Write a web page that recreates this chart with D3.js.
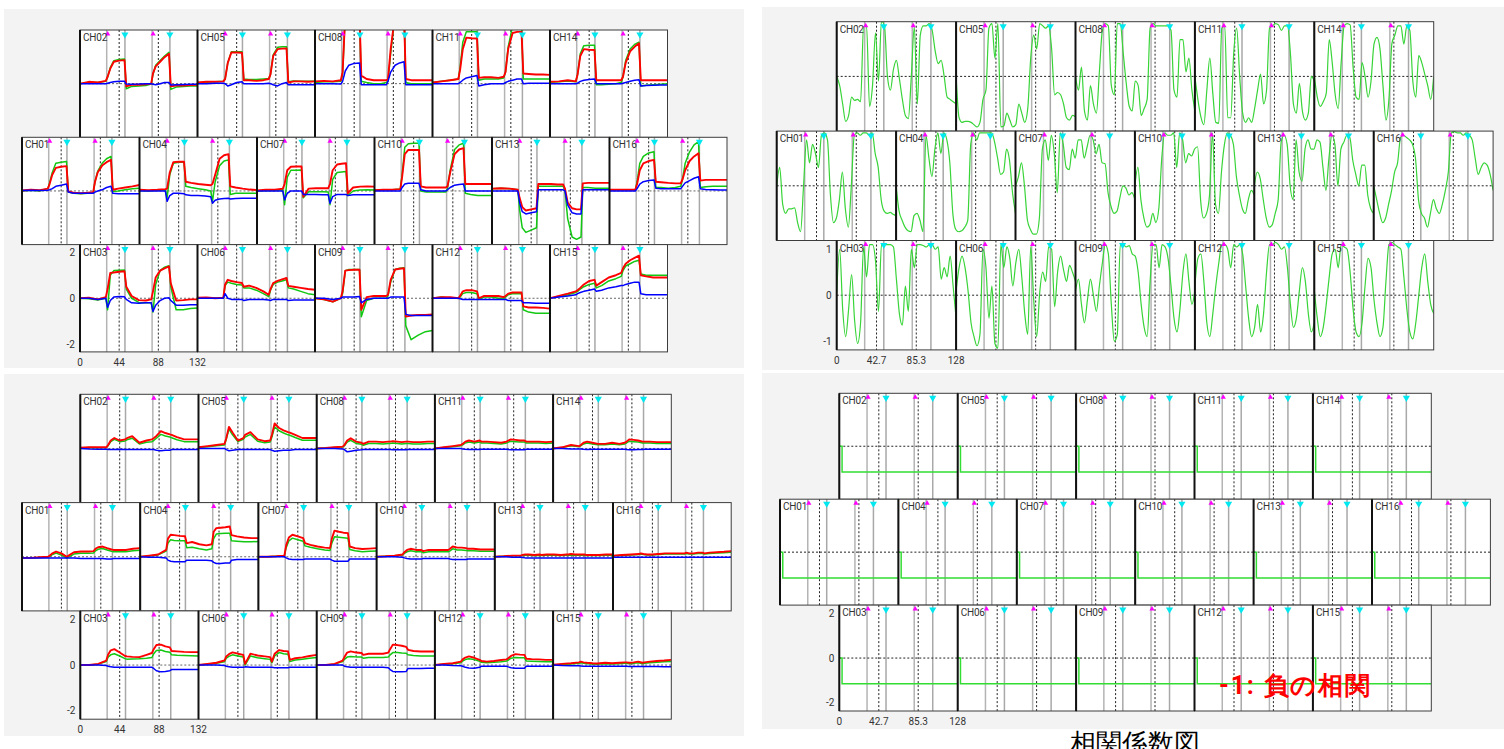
<!DOCTYPE html>
<html>
<head>
<meta charset="utf-8">
<script src="https://cdn.jsdelivr.net/npm/d3@7/dist/d3.min.js"></script>
<style>
  body { margin: 0; background: #fff; overflow: hidden; }
  svg text { font-family: Roboto, "Noto Sans", sans-serif; }
</style>
</head>
<body>
<svg id="chart" width="1504" height="749"></svg>
<script>
// channel layout (3 staggered rows)
const rowChannels = [[2, 5, 8, 11, 14], [1, 4, 7, 10, 13, 16], [3, 6, 9, 12, 15]];

// task events: start, end, start, end (seconds)
const eventTimes = [30, 50.5, 81, 101];

// sample times for the Hb waveforms (s) and the correlation traces (s)
const tHb = [0, 10, 20, 29, 31, 34, 38, 44, 50, 52, 58, 66, 74, 80, 82, 85, 90, 95, 100, 102, 108, 116, 124, 132];
const tCorr = [0, 3.2, 6.4, 9.6, 12.8, 16, 19.2, 22.4, 25.6, 28.8, 32, 35.2, 38.4, 41.6, 44.8, 48, 51.2, 54.4, 57.6, 60.8, 64,
  67.2, 70.4, 73.6, 76.8, 80, 83.2, 86.4, 89.6, 92.8, 96, 99.2, 102.4, 105.6, 108.8, 112, 115.2, 118.4, 121.6, 124.8, 128];

// ---- top-left: oxy (red), total (green), deoxy (blue), index = channel-1
const tlOxy = [
  [0.02,0.05,0.03,0.1,0.3,0.7,1.0,1.05,1.08,-0.02,-0.08,-0.1,-0.08,-0.05,0.4,0.8,1.1,1.25,1.35,0.05,0.1,0.15,0.2,0.26],
  [0.0,0.08,0.05,0.12,0.3,0.65,0.95,1.0,1.02,-0.12,-0.05,-0.05,-0.03,0.0,0.45,0.75,0.95,1.15,1.3,-0.12,-0.08,-0.08,-0.06,-0.05],
  [0.0,0.02,-0.05,0.05,0.4,1.1,1.12,1.15,1.17,0.5,0.1,-0.08,-0.1,-0.05,0.3,0.9,1.2,1.3,1.38,0.65,-0.1,-0.08,-0.05,-0.05],
  [0.05,0.03,0.05,0.08,0.1,0.8,1.25,1.27,1.27,0.4,0.35,0.3,0.27,0.25,0.3,0.7,1.4,1.55,1.6,0.2,0.15,0.1,0.06,0.04],
  [0.05,0.08,0.08,0.1,0.2,0.9,1.35,1.35,1.34,0.15,0.15,0.12,0.15,0.2,0.4,1.2,1.5,1.52,1.53,0.05,0.1,0.1,0.08,0.1],
  [0.02,0.03,0.0,0.02,0.6,0.8,0.75,0.7,0.66,0.5,0.55,0.45,0.3,0.15,0.4,0.66,0.75,0.82,0.88,0.54,0.5,0.45,0.4,0.37],
  [0.02,0.05,0.05,0.1,0.3,0.9,1.05,1.06,1.06,-0.25,0.1,0.12,0.12,0.12,0.3,0.9,1.15,1.18,1.2,-0.1,0.15,0.19,0.2,0.19],
  [0.1,0.12,0.1,0.15,0.5,3,3,3,3,0.35,0.2,0.15,0.15,0.15,0.2,1.5,3,3,3,0.2,0.15,0.15,0.15,0.15],
  [0.0,-0.05,-0.15,0.0,0.3,1.2,1.22,1.24,1.24,-0.5,0.05,0.1,0.1,0.1,0.15,0.8,1.25,1.28,1.3,-0.8,-0.75,-0.72,-0.72,-0.7],
  [0.03,0.05,0.05,0.08,0.6,1.6,1.78,1.78,1.78,0.2,0.15,0.15,0.15,0.15,0.2,0.8,1.6,1.8,1.86,0.3,0.3,0.3,0.3,0.3],
  [0.05,0.1,0.15,0.2,0.6,1.5,2.0,1.97,1.96,0.25,0.28,0.28,0.25,0.3,0.5,1.5,2.2,2.25,2.25,0.44,0.42,0.4,0.4,0.38],
  [0.0,0.05,0.05,0.0,0.1,0.3,0.35,0.35,0.3,0.0,0.1,0.1,0.1,0.05,0.1,0.2,0.25,0.25,0.25,-0.35,-0.4,-0.4,-0.42,-0.45],
  [0.1,0.12,0.1,0.05,-0.3,-0.7,-0.85,-0.8,-0.75,0.3,0.3,0.3,0.28,0.28,0.1,-0.5,-0.75,-0.8,-0.8,0.33,0.35,0.35,0.35,0.35],
  [0.08,0.1,0.15,0.1,0.4,1.2,1.5,1.47,1.46,0.15,0.15,0.15,0.15,0.15,0.3,0.9,1.4,1.6,1.75,0.15,0.15,0.15,0.15,0.15],
  [0.0,0.1,0.2,0.3,0.35,0.45,0.6,0.75,0.8,0.55,0.7,0.9,1.0,1.1,1.3,1.5,1.65,1.75,1.85,1.0,0.95,0.9,0.9,0.9],
  [0.05,0.05,0.05,0.05,0.3,0.9,1.2,1.3,1.35,0.4,0.38,0.35,0.33,0.33,0.5,0.9,1.3,1.5,1.64,0.45,0.48,0.48,0.48,0.48]
];
const tlTotal = [
  [0.0,0.03,0.0,0.1,0.35,0.8,1.2,1.25,1.28,-0.05,-0.1,-0.12,-0.1,-0.08,0.4,0.85,1.2,1.4,1.5,-0.02,0.0,0.05,0.1,0.12],
  [0.0,0.06,0.05,0.1,0.28,0.7,1.0,1.05,1.07,-0.22,-0.12,-0.1,-0.08,-0.02,0.4,0.8,1.0,1.2,1.36,-0.25,-0.15,-0.12,-0.1,-0.1],
  [0.0,-0.02,-0.08,0.0,-0.5,1.0,1.2,1.22,1.23,0.4,0.0,-0.18,-0.2,-0.2,-0.6,0.6,1.2,1.35,1.41,0.5,-0.5,-0.5,-0.45,-0.42],
  [0.02,0.0,0.03,0.05,-0.3,0.7,1.2,1.25,1.25,0.2,0.15,0.1,0.05,0.0,-0.45,0.4,1.1,1.3,1.35,-0.15,-0.1,-0.1,-0.1,-0.1],
  [0.05,0.06,0.08,0.1,0.2,0.9,1.38,1.38,1.38,0.2,0.18,0.18,0.2,0.22,0.4,1.25,1.58,1.6,1.6,0.08,0.12,0.1,0.1,0.1],
  [0.0,0.02,0.0,0.0,0.55,0.7,0.65,0.6,0.58,0.45,0.45,0.35,0.2,0.07,0.35,0.6,0.7,0.75,0.8,0.45,0.4,0.3,0.2,0.15],
  [0.0,0.02,0.02,0.05,-0.6,0.6,0.9,0.9,0.91,-0.3,-0.03,-0.03,-0.03,-0.05,-0.6,0.5,0.8,0.82,0.84,-0.2,0.0,0.04,0.05,0.04],
  [0.05,0.08,0.08,0.1,0.4,3,3,3,3,0.1,0.05,0.0,0.0,0.05,0.1,1.3,3,3,3,0.05,0.0,0.0,0.0,0.0],
  [0.0,-0.05,-0.15,0.0,0.2,1.2,1.25,1.25,1.25,-0.8,-0.1,0.0,0.0,0.0,0.1,0.7,1.25,1.3,1.32,-1.2,-1.8,-1.6,-1.45,-1.4],
  [0.03,0.05,0.05,0.08,0.7,1.9,2.05,2.07,2.07,0.0,-0.05,-0.05,-0.05,-0.05,0.1,0.9,1.8,2.0,2.07,-0.1,-0.15,-0.2,-0.2,-0.2],
  [0.05,0.1,0.15,0.2,0.7,1.8,2.25,2.25,2.25,0.15,0.2,0.2,0.2,0.25,0.5,1.6,2.5,2.5,2.5,0.2,0.2,0.2,0.2,0.2],
  [0.0,0.05,0.0,0.0,0.05,0.2,0.25,0.25,0.2,-0.05,0.05,0.05,0.0,0.0,0.05,0.15,0.2,0.2,0.2,-0.5,-0.6,-0.65,-0.65,-0.65],
  [0.1,0.12,0.1,0.05,-0.8,-1.6,-1.8,-1.7,-1.6,0.2,0.2,0.2,0.2,0.2,0.0,-1.2,-2.0,-2.1,-2.0,0.15,0.15,0.12,0.12,0.12],
  [0.06,0.08,0.12,0.08,0.4,1.3,1.65,1.67,1.67,-0.05,-0.05,-0.03,0.0,0.05,0.3,1.0,1.5,1.7,1.8,-0.1,-0.07,-0.05,-0.03,0.0],
  [0.0,0.08,0.15,0.25,0.3,0.4,0.5,0.6,0.65,0.45,0.55,0.75,0.85,0.95,1.2,1.4,1.5,1.6,1.65,1.05,1.0,1.0,1.0,1.0],
  [0.05,0.05,0.05,0.05,0.4,1.2,1.5,1.65,1.7,0.15,0.15,0.12,0.15,0.2,0.5,1.2,1.7,2.0,2.14,0.15,0.18,0.2,0.2,0.2]
];
const tlDeoxy = [
  [0.02,0.03,0.02,0.03,0.05,0.1,0.2,0.25,0.3,-0.05,-0.1,-0.1,-0.1,-0.1,-0.05,0.0,0.05,0.15,0.2,-0.1,-0.12,-0.12,-0.12,-0.12],
  [0.0,0.0,0.0,0.0,0.02,0.05,0.08,0.1,0.1,-0.02,-0.03,-0.02,0.0,0.0,-0.03,-0.05,0.0,0.05,0.05,-0.06,-0.05,-0.04,-0.03,-0.03],
  [0.0,0.0,-0.05,0.0,-0.4,-0.1,0.05,0.08,0.06,-0.05,-0.2,-0.22,-0.2,-0.2,-0.57,-0.3,-0.1,0.0,0.02,-0.1,-0.3,-0.3,-0.28,-0.28],
  [0.0,0.0,0.0,0.0,-0.45,-0.2,-0.1,-0.1,-0.12,-0.17,-0.2,-0.2,-0.22,-0.25,-0.53,-0.4,-0.35,-0.33,-0.32,-0.35,-0.33,-0.32,-0.32,-0.32],
  [0.0,0.0,0.02,0.02,0.0,-0.1,-0.05,0.05,0.08,0.0,0.0,0.0,0.0,0.02,0.0,-0.05,-0.1,0.0,0.05,-0.05,-0.05,-0.05,-0.05,-0.05],
  [0.0,0.0,0.0,0.0,0.2,0.0,-0.05,-0.05,-0.05,-0.1,-0.05,-0.05,-0.05,-0.08,-0.1,-0.05,-0.05,-0.05,-0.05,-0.1,-0.08,-0.08,-0.08,-0.08],
  [0.0,0.0,0.0,0.0,-0.39,-0.1,0.0,0.0,0.0,-0.15,-0.15,-0.15,-0.17,-0.17,-0.53,-0.25,-0.15,-0.15,-0.15,-0.2,-0.17,-0.17,-0.17,-0.17],
  [0.0,0.0,0.0,-0.02,0.1,0.55,0.8,0.88,0.9,-0.05,-0.05,-0.05,-0.05,-0.05,0.1,0.5,0.8,0.9,0.95,-0.05,-0.05,-0.05,-0.05,-0.05],
  [0.0,0.0,-0.05,0.0,0.05,0.05,0.05,0.05,0.08,-0.2,-0.05,0.0,0.0,0.0,0.0,0.05,0.05,0.05,0.05,-0.7,-0.75,-0.75,-0.75,-0.75],
  [0.0,0.0,0.0,0.0,0.15,0.3,0.33,0.33,0.33,0.05,0.0,0.0,0.0,0.0,0.05,0.15,0.25,0.28,0.3,0.0,0.0,0.0,0.0,0.0],
  [0.0,0.0,0.0,0.0,0.05,0.15,0.25,0.3,0.35,-0.1,-0.05,0.0,0.0,0.0,0.05,0.1,0.15,0.2,0.2,0.0,0.02,0.02,0.02,0.02],
  [0.0,0.0,0.0,0.0,-0.02,-0.05,-0.05,-0.05,-0.05,-0.05,-0.05,-0.05,-0.05,-0.05,-0.05,-0.1,-0.1,-0.1,-0.1,-0.2,-0.2,-0.22,-0.22,-0.22],
  [0.0,0.0,0.0,0.0,-0.5,-0.9,-1.0,-0.95,-0.9,0.05,0.05,0.05,0.05,0.05,0.0,-0.6,-0.95,-1.0,-1.0,0.05,0.05,0.05,0.05,0.05],
  [0.0,0.0,0.0,0.0,0.02,0.1,0.15,0.18,0.2,0.0,0.0,0.0,0.0,0.0,0.02,0.05,0.1,0.15,0.17,-0.1,-0.08,-0.07,-0.06,-0.06],
  [0.0,0.05,0.1,0.15,0.2,0.25,0.3,0.35,0.4,0.3,0.35,0.45,0.5,0.55,0.55,0.6,0.65,0.7,0.7,0.2,0.15,0.15,0.15,0.15],
  [0.0,0.0,0.0,0.0,0.1,0.3,0.4,0.45,0.48,0.12,0.1,0.1,0.1,0.1,0.2,0.35,0.45,0.55,0.62,0.1,0.06,0.05,0.04,0.04]
];

// ---- bottom-left: oxy (red), total (green), deoxy (blue)
const blOxy = [
  [-0.05,-0.05,-0.02,0.0,0.05,0.15,0.23,0.15,0.0,0.05,0.2,0.23,0.23,0.25,0.35,0.42,0.45,0.38,0.32,0.3,0.3,0.3,0.35,0.38],
  [0.03,0.05,0.05,0.05,0.15,0.35,0.46,0.35,0.4,0.45,0.54,0.25,0.35,0.4,0.45,0.55,0.76,0.68,0.62,0.6,0.5,0.4,0.4,0.4],
  [0.0,0.0,0.05,0.2,0.45,0.65,0.7,0.55,0.4,0.38,0.36,0.35,0.45,0.53,0.7,0.88,0.9,0.82,0.78,0.62,0.6,0.58,0.57,0.57],
  [0.0,0.05,0.1,0.3,0.8,0.97,0.95,0.92,0.9,0.6,0.65,0.55,0.5,0.55,1.1,1.26,1.28,1.3,1.33,0.95,0.9,0.85,0.82,0.82],
  [0.05,0.1,0.15,0.2,0.45,0.95,0.7,0.35,0.45,0.6,0.72,0.4,0.32,0.35,0.6,1.1,0.9,0.8,0.72,0.7,0.6,0.46,0.46,0.46],
  [0.0,0.05,0.1,0.2,0.38,0.48,0.56,0.5,0.45,0.05,0.5,0.42,0.38,0.35,0.15,0.5,0.66,0.62,0.6,0.23,0.3,0.34,0.4,0.45],
  [0.0,0.0,0.02,0.05,0.5,0.85,0.97,0.9,0.82,0.6,0.52,0.45,0.4,0.38,0.8,1.15,1.1,1.06,1.04,0.45,0.38,0.34,0.36,0.38],
  [0.0,0.02,0.05,0.08,0.15,0.35,0.45,0.3,0.25,0.2,0.3,0.3,0.28,0.3,0.3,0.32,0.3,0.28,0.3,0.3,0.28,0.28,0.3,0.3],
  [0.0,0.0,0.05,0.2,0.35,0.55,0.6,0.55,0.53,0.45,0.5,0.5,0.5,0.55,0.7,0.9,0.88,0.85,0.8,0.67,0.62,0.6,0.6,0.6],
  [0.0,0.02,0.05,0.1,0.2,0.3,0.35,0.3,0.3,0.25,0.3,0.3,0.3,0.3,0.35,0.45,0.4,0.4,0.38,0.35,0.35,0.32,0.32,0.32],
  [0.0,0.05,0.1,0.15,0.2,0.3,0.35,0.3,0.35,0.3,0.3,0.28,0.25,0.3,0.35,0.4,0.38,0.35,0.35,0.3,0.3,0.3,0.28,0.3],
  [0.0,0.05,0.08,0.15,0.25,0.33,0.38,0.32,0.23,0.18,0.15,0.18,0.22,0.25,0.3,0.4,0.48,0.46,0.45,0.28,0.26,0.25,0.23,0.23],
  [0.0,0.02,0.05,0.05,0.08,0.1,0.1,0.08,0.1,0.08,0.1,0.1,0.08,0.1,0.1,0.12,0.1,0.1,0.1,0.08,0.08,0.08,0.1,0.1],
  [0.0,0.05,0.15,0.1,0.15,0.25,0.3,0.25,0.2,0.2,0.2,0.25,0.2,0.25,0.3,0.4,0.38,0.35,0.3,0.3,0.3,0.28,0.28,0.28],
  [0.02,0.05,0.08,0.12,0.15,0.12,0.1,0.08,0.07,0.08,0.1,0.08,0.1,0.12,0.12,0.1,0.12,0.15,0.1,0.12,0.15,0.18,0.2,0.23],
  [0.05,0.08,0.1,0.12,0.15,0.12,0.1,0.1,0.12,0.12,0.15,0.15,0.15,0.15,0.18,0.15,0.15,0.18,0.18,0.15,0.18,0.2,0.22,0.25]
];
const blTotal = [
  [-0.05,-0.05,-0.03,-0.02,0.02,0.1,0.16,0.08,-0.06,-0.02,0.12,0.15,0.15,0.17,0.26,0.33,0.36,0.3,0.24,0.22,0.22,0.22,0.26,0.29],
  [0.02,0.04,0.03,0.04,0.12,0.3,0.4,0.3,0.33,0.38,0.45,0.2,0.27,0.3,0.35,0.45,0.62,0.55,0.5,0.47,0.38,0.3,0.3,0.3],
  [0.0,0.0,0.04,0.15,0.35,0.45,0.5,0.4,0.28,0.26,0.27,0.28,0.3,0.33,0.5,0.64,0.66,0.6,0.56,0.45,0.43,0.42,0.41,0.4],
  [0.0,0.03,0.08,0.25,0.6,0.75,0.72,0.7,0.7,0.4,0.42,0.35,0.3,0.35,0.8,1.0,1.02,1.03,1.04,0.7,0.68,0.66,0.66,0.67],
  [0.04,0.08,0.12,0.15,0.4,0.85,0.6,0.3,0.4,0.5,0.62,0.32,0.25,0.28,0.5,0.95,0.78,0.68,0.6,0.58,0.48,0.36,0.36,0.36],
  [0.0,0.04,0.08,0.15,0.3,0.38,0.45,0.4,0.35,0.0,0.4,0.32,0.28,0.25,0.1,0.4,0.55,0.5,0.48,0.15,0.22,0.26,0.3,0.33],
  [0.0,0.0,0.02,0.04,0.4,0.7,0.82,0.75,0.68,0.48,0.42,0.35,0.3,0.28,0.6,0.88,0.86,0.84,0.82,0.32,0.26,0.22,0.24,0.25],
  [0.0,0.02,0.04,0.06,0.12,0.28,0.36,0.22,0.18,0.14,0.22,0.22,0.2,0.22,0.22,0.24,0.22,0.2,0.22,0.22,0.2,0.2,0.22,0.22],
  [0.0,0.0,0.04,0.15,0.25,0.35,0.38,0.36,0.35,0.3,0.33,0.33,0.33,0.35,0.45,0.55,0.55,0.53,0.52,0.45,0.42,0.4,0.4,0.4],
  [0.0,0.02,0.04,0.08,0.15,0.22,0.26,0.22,0.22,0.18,0.22,0.22,0.22,0.22,0.26,0.35,0.3,0.3,0.28,0.26,0.26,0.24,0.24,0.24],
  [0.0,0.04,0.08,0.12,0.16,0.24,0.28,0.24,0.28,0.24,0.24,0.22,0.2,0.24,0.28,0.32,0.3,0.28,0.28,0.24,0.24,0.24,0.22,0.24],
  [0.0,0.04,0.06,0.1,0.18,0.24,0.28,0.24,0.17,0.12,0.1,0.12,0.15,0.18,0.22,0.3,0.33,0.32,0.32,0.18,0.17,0.16,0.15,0.15],
  [0.0,0.02,0.04,0.04,0.06,0.07,0.07,0.06,0.07,0.06,0.07,0.07,0.06,0.07,0.07,0.08,0.07,0.07,0.07,0.06,0.06,0.06,0.07,0.07],
  [0.0,0.04,0.12,0.08,0.12,0.2,0.24,0.2,0.16,0.16,0.16,0.2,0.16,0.2,0.24,0.32,0.3,0.28,0.24,0.24,0.24,0.22,0.22,0.22],
  [0.0,0.02,0.05,0.08,0.1,0.08,0.06,0.05,0.04,0.05,0.06,0.05,0.06,0.08,0.08,0.06,0.08,0.1,0.06,0.08,0.1,0.12,0.14,0.16],
  [0.04,0.06,0.08,0.1,0.12,0.1,0.08,0.08,0.1,0.1,0.12,0.12,0.12,0.12,0.14,0.12,0.12,0.14,0.14,0.12,0.14,0.16,0.18,0.2]
];
const blDeoxy = [
  [-0.05,-0.05,-0.05,-0.05,-0.05,-0.05,-0.05,-0.05,-0.05,-0.05,-0.05,-0.08,-0.08,-0.08,-0.08,-0.08,-0.08,-0.1,-0.1,-0.08,-0.08,-0.08,-0.08,-0.08],
  [0.0,-0.02,-0.03,-0.03,-0.05,-0.05,-0.05,-0.03,-0.05,-0.05,-0.05,-0.05,-0.05,-0.05,-0.05,-0.08,-0.1,-0.08,-0.08,-0.05,-0.05,-0.05,-0.05,-0.05],
  [0.0,0.0,0.0,-0.02,-0.05,-0.08,-0.1,-0.1,-0.1,-0.1,-0.1,-0.1,-0.1,-0.1,-0.15,-0.25,-0.3,-0.28,-0.25,-0.2,-0.2,-0.2,-0.2,-0.2],
  [0.0,-0.02,-0.02,-0.05,-0.15,-0.2,-0.22,-0.22,-0.22,-0.15,-0.15,-0.15,-0.15,-0.18,-0.25,-0.3,-0.3,-0.28,-0.28,-0.15,-0.12,-0.12,-0.12,-0.12],
  [0.0,0.0,0.0,0.0,-0.05,-0.1,-0.08,-0.05,-0.05,-0.05,-0.05,-0.05,-0.05,-0.05,-0.08,-0.12,-0.1,-0.08,-0.08,-0.08,-0.05,-0.05,-0.05,-0.05],
  [0.0,0.0,0.0,-0.02,-0.05,-0.08,-0.1,-0.1,-0.1,-0.08,-0.1,-0.1,-0.1,-0.1,-0.1,-0.12,-0.12,-0.12,-0.12,-0.1,-0.1,-0.1,-0.1,-0.1],
  [0.0,0.0,0.0,0.0,-0.05,-0.1,-0.12,-0.12,-0.12,-0.1,-0.1,-0.1,-0.1,-0.1,-0.15,-0.2,-0.2,-0.2,-0.2,-0.1,-0.1,-0.1,-0.1,-0.1],
  [0.0,0.0,0.0,-0.02,-0.05,-0.15,-0.12,-0.08,-0.06,-0.05,-0.05,-0.05,-0.05,-0.05,-0.05,-0.06,-0.06,-0.06,-0.06,-0.05,-0.05,-0.05,-0.05,-0.05],
  [0.0,0.0,0.0,0.0,-0.05,-0.08,-0.1,-0.1,-0.1,-0.1,-0.1,-0.1,-0.1,-0.12,-0.2,-0.28,-0.3,-0.3,-0.28,-0.15,-0.15,-0.15,-0.14,-0.14],
  [0.0,0.0,0.0,-0.02,-0.05,-0.08,-0.1,-0.1,-0.1,-0.08,-0.08,-0.08,-0.08,-0.08,-0.1,-0.12,-0.12,-0.12,-0.12,-0.1,-0.1,-0.1,-0.1,-0.1],
  [0.0,0.0,0.0,0.0,-0.02,-0.04,-0.05,-0.05,-0.05,-0.04,-0.04,-0.04,-0.04,-0.04,-0.05,-0.06,-0.06,-0.06,-0.06,-0.04,-0.04,-0.04,-0.04,-0.04],
  [0.0,0.0,-0.02,-0.03,-0.05,-0.1,-0.13,-0.14,-0.1,-0.05,-0.05,-0.05,-0.05,-0.05,-0.08,-0.12,-0.14,-0.14,-0.14,-0.05,-0.05,-0.05,-0.05,-0.05],
  [0.0,0.0,-0.02,-0.02,-0.03,-0.05,-0.05,-0.05,-0.05,-0.05,-0.05,-0.05,-0.05,-0.05,-0.05,-0.06,-0.06,-0.06,-0.06,-0.05,-0.05,-0.05,-0.05,-0.05],
  [0.0,0.0,-0.02,-0.02,-0.02,-0.04,-0.05,-0.04,-0.04,-0.04,-0.04,-0.04,-0.04,-0.04,-0.05,-0.06,-0.06,-0.05,-0.05,-0.04,-0.04,-0.04,-0.04,-0.04],
  [0.0,-0.02,-0.03,-0.03,-0.04,-0.05,-0.05,-0.05,-0.05,-0.05,-0.05,-0.05,-0.05,-0.05,-0.05,-0.06,-0.06,-0.06,-0.06,-0.06,-0.06,-0.06,-0.07,-0.07],
  [-0.02,-0.02,-0.02,-0.02,-0.02,-0.02,-0.02,-0.02,-0.02,-0.02,-0.02,-0.02,-0.02,-0.02,-0.02,-0.02,-0.02,-0.02,-0.02,-0.02,-0.02,-0.02,-0.02,-0.02]
];

// ---- top-right: correlation coefficient traces, index = channel-1
const trCorr = [
  [0,0.4,-0.4,-0.6,-0.5,-0.5,-0.48,-0.8,-1.0,0.0,1.0,0.5,0.9,0.7,0.4,1.1,1.15,1.0,-0.2,-0.8,-0.7,-0.3,0.3,-0.5,-0.9,0.0,1.1,1.15,1.1,1.15,1.15,1.1,1.15,0.7,0.4,-0.3,-0.55,-0.6,-0.58,-0.62,-0.65],
  [0,-0.2,-0.6,-0.98,-0.85,-0.45,-0.52,-0.5,-0.55,1.08,1.1,-0.65,-0.2,0.95,-0.1,1.2,1.1,0.0,-0.3,0.15,0.35,-0.05,-0.5,-0.85,-0.92,0.0,1.08,-0.6,0.9,1.1,1.1,1.15,1.0,0.55,0.28,0.35,0.0,-0.45,-0.5,-0.55,-0.6],
  [0.05,1.0,-0.3,-0.9,-0.3,0.45,-0.55,-1.05,-0.6,1.05,0.4,1.1,1.1,0.75,-0.35,1.1,1.1,1.1,1.1,1.05,0.35,-0.4,-0.65,0.2,-0.35,1.0,0.6,1.1,1.1,1.08,1.05,1.1,1.1,1.0,1.05,0.35,0.6,0.4,0.85,0.2,-0.5],
  [0,-0.55,-0.75,-0.9,-0.98,-1.0,-0.65,-0.6,-0.75,-1.0,1.1,0.6,0.2,0.8,1.15,0.7,1.15,1.0,0.5,-0.6,-0.95,-1.0,-0.98,-0.9,-0.75,0.9,1.15,1.0,1.15,1.15,1.15,1.15,1.15,0.95,0.6,0.25,0.3,0.8,0.55,-0.15,-0.6],
  [0,-0.9,-1.0,-0.98,-0.98,-1.0,-1.05,-1.1,-1.0,-0.5,-0.3,1.05,1.15,0.4,1.15,-1.1,-1.08,-0.8,-0.95,-1.1,-1.05,-0.6,-0.8,-1.0,-0.7,0.4,0.9,0.6,1.15,1.1,1.05,1.1,0.6,-0.4,-0.35,-0.4,-0.6,-0.9,-0.95,-0.85,-0.88],
  [0.1,0.6,0.85,0.6,0.1,-0.6,-0.9,-1.1,-0.85,1.0,0.6,-0.5,0.2,-1.05,-1.15,1.1,0.6,1.05,0.8,0.2,0.7,1.0,0.4,-0.4,-0.85,1.05,-0.1,-0.9,0.05,0.5,0.3,1.05,1.0,-0.25,0.5,0.85,0.55,0.3,0.65,0.5,0.3],
  [0,0.2,0.5,0.0,-0.75,-0.95,-1.05,-1.05,-0.7,0.8,1.0,0.55,1.1,0.7,-0.15,1.15,0.9,0.4,0.35,0.8,0.6,1.0,1.0,0.6,0.85,1.1,1.0,0.7,0.9,0.5,0.48,-0.15,-0.45,-0.6,-0.55,-0.25,0.0,-0.05,-0.2,-0.15,-0.3],
  [0,-0.3,0.2,-0.75,-0.95,-0.2,-0.6,-0.8,0.1,1.0,1.15,1.1,-0.2,-0.4,1.15,1.15,0.5,-0.15,-0.65,-0.75,-0.1,-0.2,-0.85,-0.7,-0.5,1.05,1.15,1.1,1.1,1.1,1.1,1.1,1.0,-0.3,-0.45,0.8,0.8,0.1,0.4,-0.3,-0.75],
  [0.1,0.35,-0.2,-0.6,-0.1,0.35,0.0,-0.35,0.2,0.7,1.1,0.9,-0.2,-1.0,-0.85,1.1,1.1,1.05,1.08,0.9,0.85,0.5,-0.2,-0.7,-0.9,0.3,1.1,1.1,0.6,1.1,1.05,0.8,0.2,-0.5,-0.8,-0.3,0.5,0.9,0.3,-0.2,0.1],
  [0,0.4,-0.3,-0.7,-0.9,-0.85,-0.6,-0.8,-0.5,0.6,1.15,1.1,1.1,1.15,0.4,1.15,1.0,0.5,0.7,0.65,0.8,0.85,-0.3,-0.7,-0.6,-0.2,1.15,-0.4,-0.6,0.3,0.9,1.15,1.1,0.9,0.2,-0.2,-0.5,-0.6,-0.3,-0.1,-0.2],
  [0,-0.5,-0.88,-1.05,-0.3,0.4,-0.37,-1.0,-1.02,1.05,1.1,-0.9,-0.9,0.5,1.05,0.0,-0.8,-1.0,-0.9,-1.0,-0.7,-0.3,0.05,-0.6,-0.3,1.05,1.1,1.15,1.12,1.0,1.1,1.1,0.5,-0.6,-0.8,-0.15,-0.75,-0.95,-0.8,0.0,-0.1],
  [0.2,0.8,0.9,0.3,-0.6,-0.9,-0.4,0.2,0.7,1.1,1.1,1.0,0.6,1.1,1.05,1.1,0.9,0.2,-0.5,-0.9,-0.7,-0.2,-0.8,-0.4,0.5,1.1,1.1,1.15,1.1,1.0,1.05,0.6,-0.2,-0.7,-0.5,0.1,0.6,0.3,-0.4,-0.8,-0.6],
  [0,0.3,0.15,-0.3,-0.7,-0.9,-0.85,-0.6,-0.3,0.95,1.1,0.9,0.0,-0.3,1.0,0.3,0.1,0.8,1.0,0.8,0.8,1.0,0.95,0.4,-0.1,0.6,1.1,0.9,0.0,0.8,0.95,1.1,1.05,0.55,0.25,0.0,0.45,0.45,-0.2,-0.5,-0.6],
  [0,-0.45,-0.65,-0.55,-0.37,0.8,0.3,-0.4,-0.7,0.3,1.1,1.15,1.12,0.2,-0.45,-0.5,0.3,0.0,-0.45,-0.1,0.7,0.85,0.6,-0.2,-0.95,-0.5,0.72,0.9,1.1,1.1,0.7,1.1,1.0,-0.1,-0.45,0.45,0.3,0.05,-0.2,-0.5,0.0],
  [0.1,-0.5,-0.9,-0.7,-0.2,0.4,0.9,1.0,0.6,1.1,1.05,1.0,0.5,-0.3,-0.8,-0.9,-0.6,0.2,0.8,0.6,-0.1,-0.6,-0.9,-0.7,0.3,1.1,1.15,1.1,1.05,1.0,0.4,-0.3,-0.8,-0.95,-0.6,0.0,0.6,0.9,0.3,-0.2,-0.4],
  [0,-0.3,-0.6,-0.8,-0.7,-0.4,-0.1,0.3,0.5,1.05,1.1,1.05,1.0,0.9,0.6,-0.3,-0.6,-0.7,-0.9,-0.6,-0.3,-0.5,-0.6,-0.4,-0.1,0.3,1.15,1.18,1.15,1.15,1.1,1.15,1.1,1.0,0.6,0.25,0.4,0.5,0.45,0.25,-0.1]
];

// ---- bottom-right: ideal negative correlation step (same for every channel)
const stepT = [0, 3, 3, 128];
const stepV = [0, 0, -1.15, -1.15];

const hbTicks = [0, 44, 88, 132];
const corrTicks = [0, 42.7, 85.3, 128];

// ---------------------------
const svg = d3.select("#chart");

const panels = [
  { bg: [4, 9, 740, 359], left: [80, 22, 80], top: 30, bw: 117.5, bh: 107.3, xMax: 132, yMax: 2.33,
    xTicks: hbTicks, yTicks: [-2, 0, 2], kind: "hb", red: tlOxy, green: tlTotal, blue: tlDeoxy },
  { bg: [762, 7, 742, 363], left: [836.7, 776.7, 836.7], top: 21.7, bw: 119.4, bh: 109.4, xMax: 128, yMax: 1.19,
    xTicks: corrTicks, yTicks: [-1, 0, 1], kind: "corr", corr: trCorr },
  { bg: [4, 374, 740, 362], left: [80.3, 22, 80.3], top: 394.3, bw: 118.2, bh: 108.3, xMax: 132, yMax: 2.385,
    xTicks: hbTicks, yTicks: [-2, 0, 2], kind: "hb", red: blOxy, green: blTotal, blue: blDeoxy },
  { bg: [762, 373, 742, 356], left: [839.3, 780, 839.3], top: 393.3, bw: 118.4, bh: 105.9, xMax: 128, yMax: 2.36,
    xTicks: corrTicks, yTicks: [-2, 0, 2], kind: "step" }
];

let clipId = 0;

panels.forEach(p => {
  svg.append("rect")
    .attr("x", p.bg[0]).attr("y", p.bg[1])
    .attr("width", p.bg[2]).attr("height", p.bg[3])
    .attr("fill", "#f3f3f3");

  const x = d3.scaleLinear().domain([0, p.xMax]).range([0, p.bw]);
  const y = d3.scaleLinear().domain([-p.yMax, p.yMax]).range([p.bh, 0]);
  const line = d3.line().x(d => x(d[0])).y(d => y(d[1]));
  const smooth = d3.line().x(d => x(d[0])).y(d => y(d[1])).curve(d3.curveMonotoneX);

  rowChannels.forEach((chs, r) => {
    chs.forEach((ch, i) => {
      const g = svg.append("g")
        .attr("transform", `translate(${p.left[r] + i * p.bw},${p.top + r * p.bh})`);

      g.append("rect").attr("width", p.bw).attr("height", p.bh).attr("fill", "#fff");

      const cid = "clip" + (clipId++);
      g.append("clipPath").attr("id", cid)
        .append("rect").attr("width", p.bw).attr("height", p.bh);

      // event lines
      eventTimes.forEach((t, k) => {
        g.append("line")
          .attr("x1", x(t)).attr("x2", x(t)).attr("y1", 0).attr("y2", p.bh)
          .attr("stroke", k % 2 ? "#a8a8a8" : "#b4b4b4")
          .attr("stroke-width", 1.5);
      });

      // dashed grid: inner x ticks and zero line
      [p.xTicks[1], p.xTicks[2]].forEach(t => {
        g.append("line")
          .attr("x1", x(t)).attr("x2", x(t)).attr("y1", 0).attr("y2", p.bh)
          .attr("stroke", "#222").attr("stroke-width", 1).attr("stroke-dasharray", "2,2");
      });
      g.append("line")
        .attr("x1", 0).attr("x2", p.bw).attr("y1", y(0)).attr("y2", y(0))
        .attr("stroke", p.kind === "hb" ? "#666" : "#222").attr("stroke-width", 1)
        .attr("stroke-dasharray", "2,2");

      const data = g.append("g").attr("clip-path", `url(#${cid})`);
      if (p.kind === "hb") {
        [["green", "#12c812", 1.5], ["red", "#ff0000", 1.9], ["blue", "#0000ff", 1.5]].forEach(([key, col, w]) => {
          const vals = p[key][ch - 1];
          data.append("path")
            .attr("d", line(tHb.map((t, j) => [t, vals[j]])))
            .attr("fill", "none").attr("stroke", col).attr("stroke-width", w)
            .attr("stroke-linejoin", "round");
        });
      } else if (p.kind === "corr") {
        const vals = p.corr[ch - 1];
        data.append("path")
          .attr("d", smooth(tCorr.map((t, j) => [t, vals[j]])))
          .attr("fill", "none").attr("stroke", "#38d438").attr("stroke-width", 1.2);
      } else {
        data.append("path")
          .attr("d", line(stepT.map((t, j) => [t, stepV[j]])))
          .attr("fill", "none").attr("stroke", "#33dd33").attr("stroke-width", 1.5);
      }

      // stimulus markers
      [eventTimes[0], eventTimes[2]].forEach(t => {
        g.append("path")
          .attr("d", d3.symbol(d3.symbolTriangle, 12)())
          .attr("transform", `translate(${x(t) + 1},${4})`)
          .attr("fill", "#ff00ff");
      });
      [eventTimes[1], eventTimes[3]].forEach(t => {
        g.append("path")
          .attr("d", d3.symbol(d3.symbolTriangle, 22)())
          .attr("transform", `translate(${x(t)},${4.5}) rotate(180)`)
          .attr("fill", "#00e8f0");
      });

      // frame
      g.append("rect").attr("width", p.bw).attr("height", p.bh)
        .attr("fill", "none").attr("stroke", "#3c3c3c").attr("stroke-width", 1);
      g.append("line").attr("x1", 0).attr("x2", 0).attr("y1", 0).attr("y2", p.bh)
        .attr("stroke", "#111").attr("stroke-width", 2);

      g.append("text")
        .attr("x", 3).attr("y", 11)
        .attr("font-size", 10).attr("fill", "#333")
        .attr("letter-spacing", -0.2)
        .text("CH" + String(ch).padStart(2, "0"));

      // axes on the first box of the bottom row
      if (r === 2 && i === 0) {
        g.selectAll(".ytl").data(p.yTicks).enter().append("text")
          .attr("x", -5).attr("y", d => y(d) + 3.5)
          .attr("text-anchor", "end").attr("font-size", 10).attr("fill", "#333")
          .text(d => d);
        g.selectAll(".xtl").data(p.xTicks).enter().append("text")
          .attr("x", d => x(d)).attr("y", p.bh + 14)
          .attr("text-anchor", "middle").attr("font-size", 10).attr("fill", "#333")
          .text(d => d);
      }
    });
  });
});

// annotation and caption
svg.append("text")
  .attr("x", 1219).attr("y", 694)
  .attr("font-family", "'Noto Sans CJK JP', sans-serif")
  .attr("font-size", 25).attr("font-weight", "bold").attr("fill", "#ff0000")
  .attr("letter-spacing", 1.8)
  .text("-1: 負の相関");

svg.append("text")
  .attr("x", 1070).attr("y", 752)
  .attr("font-family", "'Noto Sans CJK JP', sans-serif")
  .attr("font-size", 26).attr("fill", "#000")
  .text("相関係数図");
</script>
</body>
</html>
